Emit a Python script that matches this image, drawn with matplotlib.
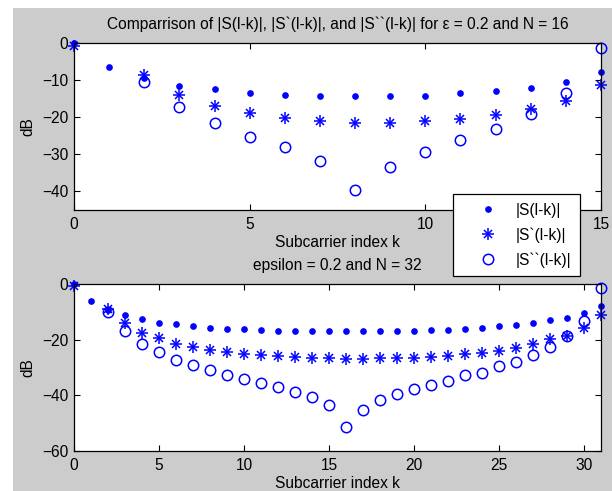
import matplotlib.pyplot as plt
from matplotlib.patches import Rectangle
from matplotlib.legend_handler import HandlerTuple
import numpy as np

plt.rcParams['font.family'] = ['Liberation Sans', 'DejaVu Sans']

nan = np.nan

# N = 16
k16 = np.arange(16)
s16 = [0.0, -6.4, -9.4, -11.5, -12.5, -13.5, -13.9, -14.3, -14.3, -14.3, -14.3,
       -13.6, -12.9, -12.0, -10.5, -7.9]
s1_16 = [-0.7, nan, -8.7, -13.9, -16.9, -18.9, -20.3, -21.1, -21.5, -21.5, -21.1,
         -20.5, -19.4, -17.7, -15.5, -11.3]
s2_16 = [nan, nan, -10.4, -17.3, -21.5, -25.2, -28.1, -31.8, -39.6, -33.4, -29.4,
         -26.1, -23.1, -19.2, -13.6, -1.4]

# N = 32
k32 = np.arange(32)
s32 = [0.0, -6.2, -9.4, -11.3, -12.6, -13.9, -14.4, -15.2, -15.8, -16.1, -16.1,
       -16.4, -16.9, -16.9, -16.9, -16.9, -16.9, -16.9, -16.9, -16.9, -16.9,
       -16.4, -16.4, -16.1, -15.7, -15.2, -14.9, -14.0, -13.0, -12.2, -10.4, -7.9]
s1_32 = [-0.6, nan, -8.9, -14.0, -17.5, -19.4, -21.4, -22.6, -23.6, -24.4, -25.3,
         -25.6, -26.0, -26.4, -26.7, -26.7, -27.1, -27.1, -26.7, -26.7, -26.7,
         -26.4, -25.9, -25.3, -24.8, -24.0, -23.0, -21.7, -19.9, -18.7, -15.7, -11.3]
s2_32 = [nan, nan, -10.1, -17.0, -21.4, -24.4, -27.2, -29.0, -30.8, -32.6, -34.0,
         -35.5, -37.0, -38.8, -40.5, -43.6, -51.4, -45.2, -41.8, -39.6, -37.9,
         -36.3, -34.7, -32.8, -31.8, -29.5, -28.0, -25.4, -22.6, -18.7, -13.4, -1.5]

labels = ['|S(l-k)|', '|S`(l-k)|', '|S``(l-k)|']
blue = (0, 0, 1)
fs = 11.2

W, H = 612, 491
fig = plt.figure(figsize=(W / 100, H / 100), dpi=100, facecolor='white')
fig.patches.append(Rectangle((13 / W, 0), 1, 1 - 8 / H, transform=fig.transFigure,
                             facecolor='#cccccc', edgecolor='none', zorder=-10))


def panel(rect, k, a, b, c, ylim, yticks, xticks, title):
    ax = fig.add_axes(rect)
    dot, = ax.plot(k, a, linestyle='none', marker='o', ms=3.8, color=blue,
                   clip_on=False)
    # asterisk = plus with a smaller cross on top
    plus, = ax.plot(k, b, linestyle='none', marker='+', ms=8.5, mew=1.1,
                    color=blue, clip_on=False)
    cross, = ax.plot(k, b, linestyle='none', marker='x', ms=5.5, mew=1.1,
                     color=blue, clip_on=False)
    ring, = ax.plot(k, c, linestyle='none', marker='o', ms=7.5, mfc='none',
                    mew=1.1, color=blue, clip_on=False)
    ax.set_xlim(0, k[-1])
    ax.set_ylim(*ylim)
    ax.set_xticks(xticks)
    ax.set_yticks(yticks)
    ax.tick_params(direction='in', top=True, right=True, length=4.5, width=0.8,
                   labelsize=fs)
    ax.tick_params(axis='x', pad=5)
    ax.tick_params(axis='y', pad=4)
    for sp in ax.spines.values():
        sp.set_linewidth(0.9)
    ax.set_xlabel('Subcarrier index k', fontsize=fs, labelpad=2)
    ax.set_ylabel('dB', fontsize=fs, labelpad=5)
    ax.set_title(title, fontsize=fs, pad=10)
    return ax, [dot, (plus, cross), ring]


top, handles = panel([74 / W, 1 - 210 / H, 527 / W, 167 / H], k16, s16, s1_16, s2_16,
                     (-45, 0), [-40, -30, -20, -10, 0], [0, 5, 10, 15],
                     'Comparrison of |S(l-k)|, |S`(l-k)|, and |S``(l-k)| for ε = 0.2 and N = 16')
bottom, _ = panel([74 / W, 1 - 451 / H, 527 / W, 167 / H], k32, s32, s1_32, s2_32,
                  (-60, 0), [-60, -40, -20, 0], [0, 5, 10, 15, 20, 25, 30],
                  'epsilon = 0.2 and N = 32')

leg = fig.legend(handles, labels, loc='upper left',
                 bbox_to_anchor=(453 / W, 1 - 194 / H), borderaxespad=0,
                 fontsize=fs, frameon=True, fancybox=False, edgecolor='black',
                 framealpha=1, labelspacing=0.62, handlelength=3.4,
                 handletextpad=0.1, borderpad=0.55,
                 handler_map={tuple: HandlerTuple(ndivide=1)})
leg.get_frame().set_linewidth(0.9)

fig.savefig('out.png', dpi=100, facecolor=fig.get_facecolor())
